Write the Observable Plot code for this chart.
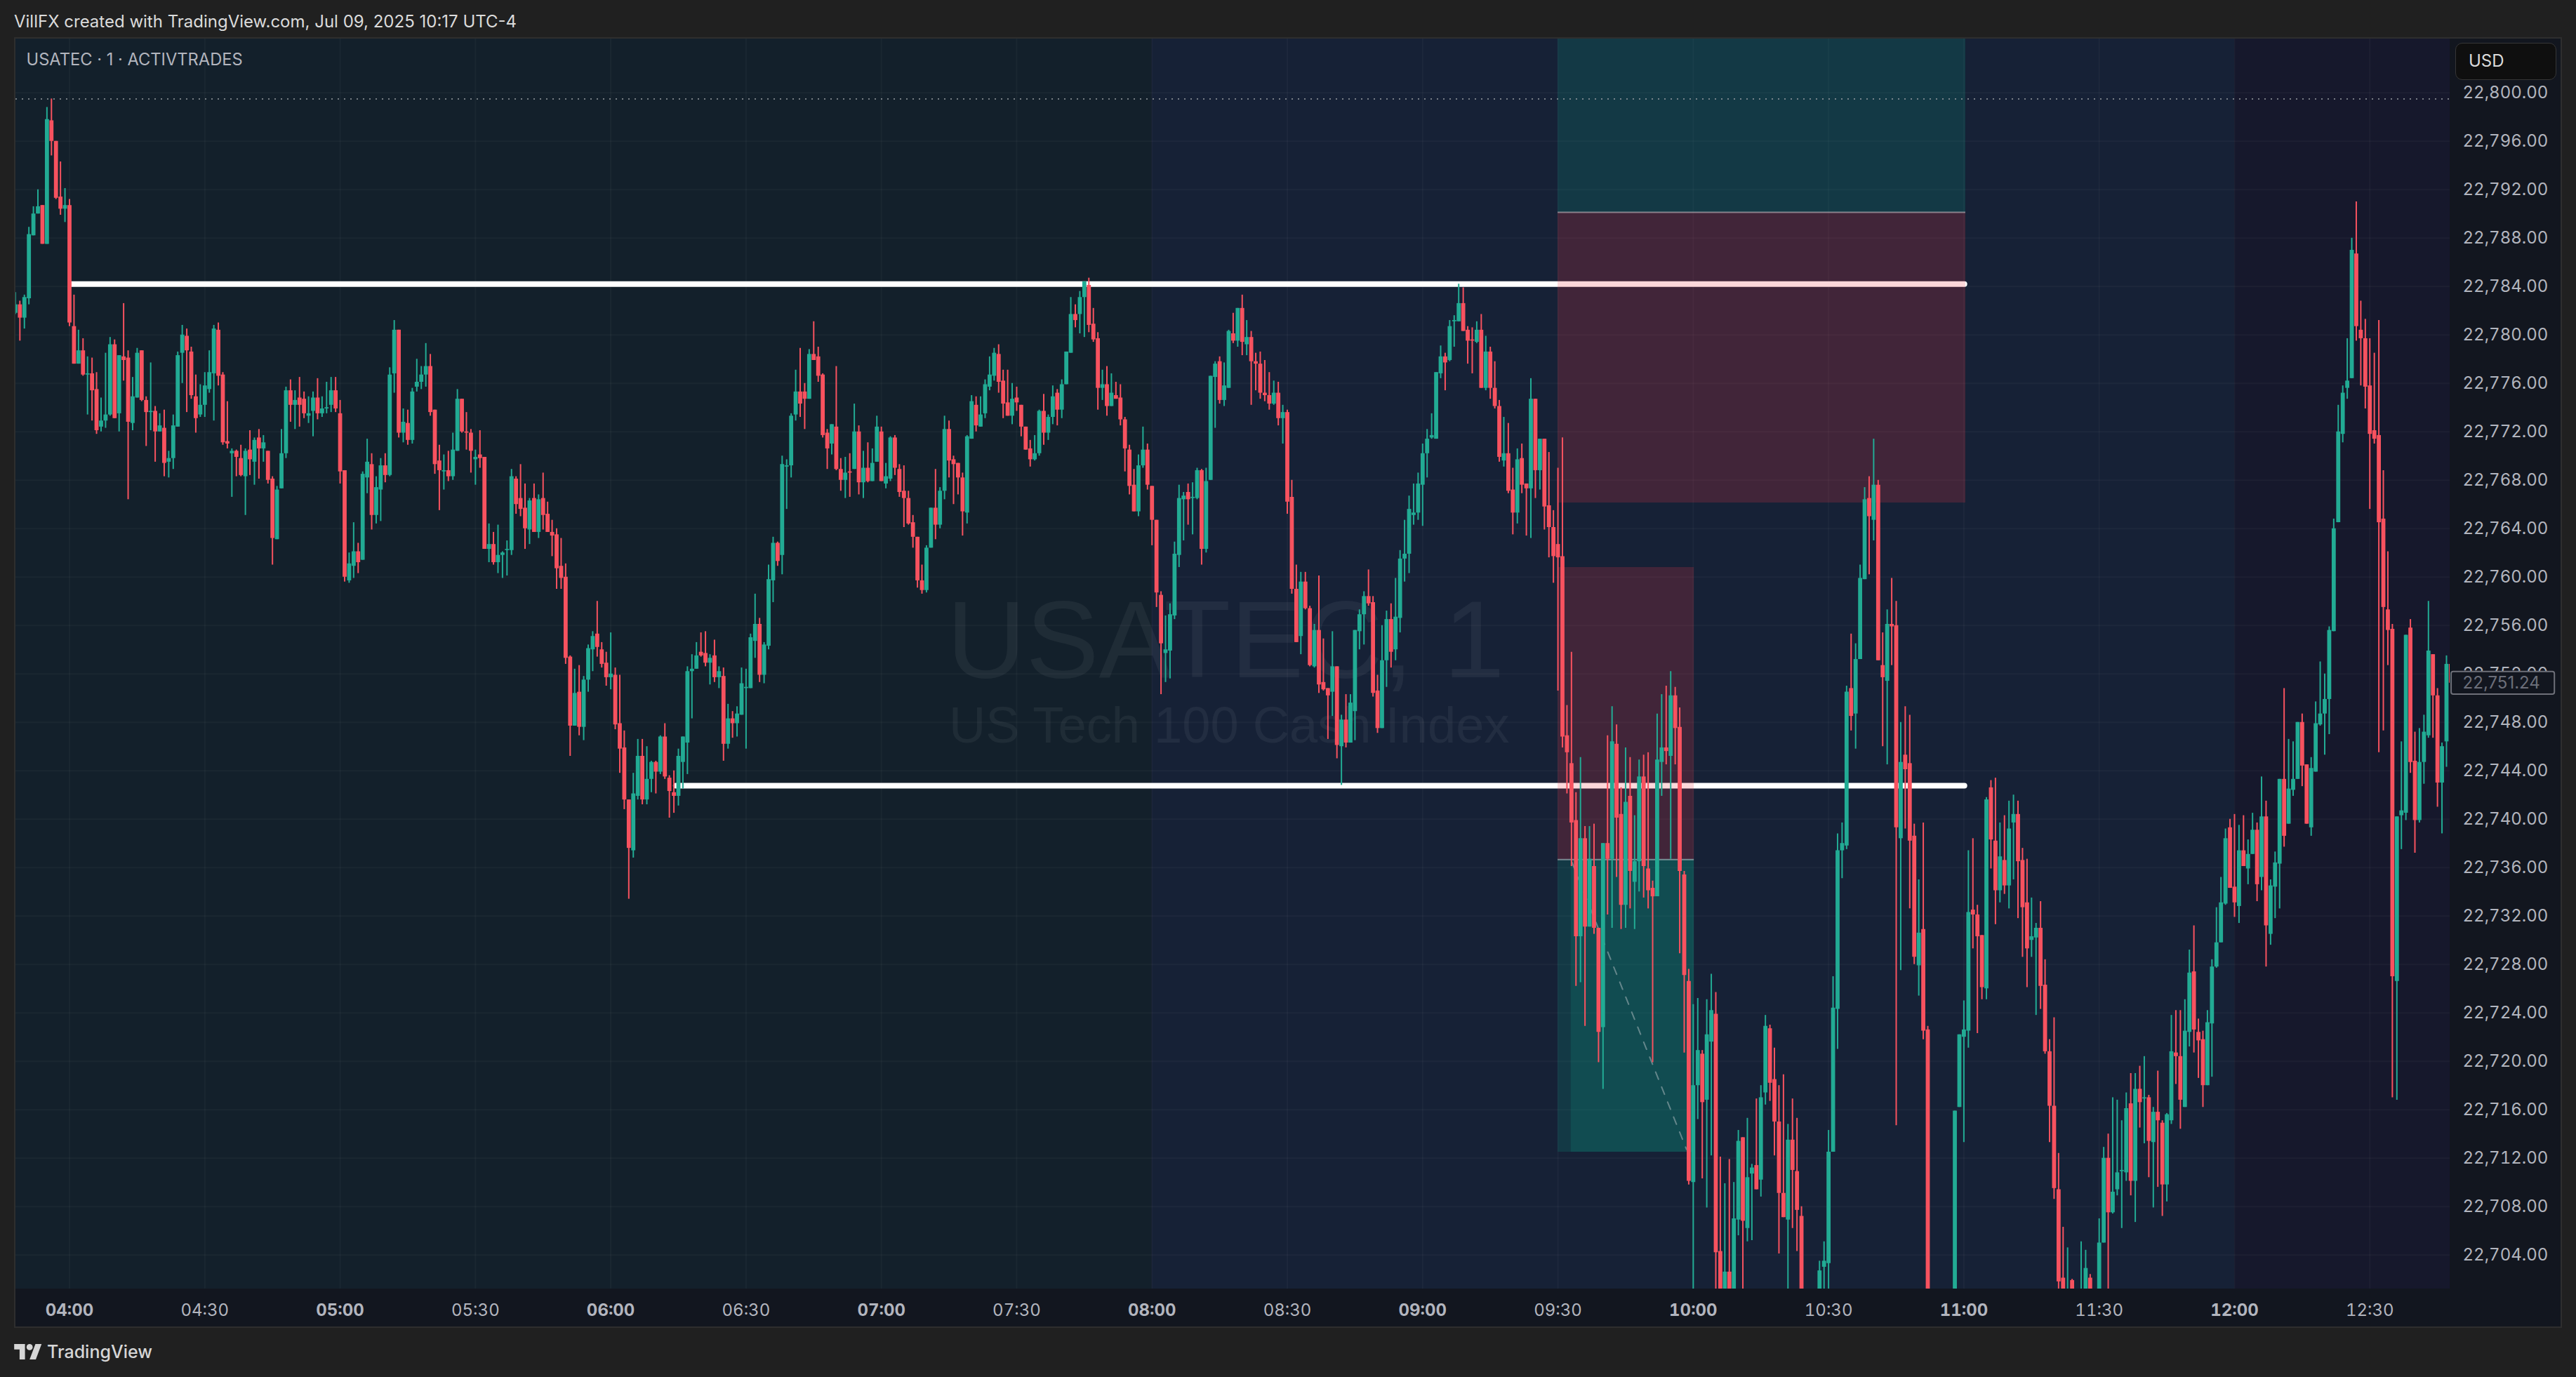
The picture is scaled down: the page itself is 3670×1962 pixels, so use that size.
<!DOCTYPE html>
<html>
<head>
<meta charset="utf-8">
<script src="https://cdn.jsdelivr.net/npm/d3@7"></script>
<script src="https://cdn.jsdelivr.net/npm/@observablehq/plot@0.6"></script>
<style>
html,body{margin:0;padding:0;background:#202020;width:3670px;height:1962px;overflow:hidden;font-family:Inter,"Noto Sans",sans-serif}
#head{height:53px;box-sizing:border-box;padding:15px 0 0 20px;font-size:24px;line-height:32px;color:#dbdbdb;white-space:nowrap}
#chart{position:relative;width:3670px;height:1839px}
#pane{position:absolute;left:20px;top:0;width:3630px;height:1839px;box-sizing:border-box;border:2px solid #2e2e2e;background:#12161f}
#chart svg{position:absolute;left:0;top:0;background:transparent!important}
#usd{position:absolute;left:3498px;top:8px;width:144px;height:53px;box-sizing:border-box;background:#0f0f0f;border:1.5px solid #363636;border-radius:10px;color:#dbdbdb;font-size:24px;line-height:50px;padding-left:18px}
#foot{height:70px;box-sizing:border-box;padding:0 0 0 20px;display:flex;align-items:center;gap:7px;color:#d6d6d6;font-size:25px;font-weight:500;margin-top:-1px}
</style>
</head>
<body>
<div id="head">VillFX created with TradingView.com, Jul 09, 2025 10:17 UTC-4</div>
<div id="chart"><div id="pane"></div></div>
<div id="foot"><svg width="40" height="22" viewBox="0 0 36 20"><path fill="#d6d6d6" d="M14 20H7V7H0V0h14v20ZM28 20h-8l7.5-20h8L28 20Z"/><circle fill="#d6d6d6" cx="20" cy="4" r="4"/></svg><span>TradingView</span></div>
<script>
const symbolLine = "USATEC · 1 · ACTIVTRADES";
const watermarkTop = "USATEC, 1";
const watermarkSub = "US Tech 100 Cash Index";
const priceBase = 22700;
const firstMinute = -12; // minutes from 04:00
const lastPrice = 22751.24;
const sessionHigh = 22799.5;
const priceTicks = [22800,22796,22792,22788,22784,22780,22776,22772,22768,22764,22760,22756,22752,22748,22744,22740,22736,22732,22728,22724,22720,22716,22712,22708,22704];
const hourTicks = [0,60,120,180,240,300,360,420,480];
const halfHourTicks = [30,90,150,210,270,330,390,450,510];
const sessionStart = [-12,240,480];
const sessionEnd = [240,480,528];
const sessionFill = ["#13202b","#162136","#16182c"];

const opens = [
81.8,82.5,81.4,83.0,88.2,90.0,90.7,87.5,97.7,96.0,
91.4,90.4,90.7,80.7,77.6,78.7,76.7,76.8,75.5,72.4,
72.9,73.4,79.2,73.5,78.2,78.1,72.7,74.8,78.7,74.6,
73.6,73.7,72.0,72.3,69.5,69.8,72.4,78.5,79.9,78.6,
74.9,73.4,74.2,75.5,76.8,80.4,76.7,71.2,70.2,70.4,
69.8,68.3,70.5,69.5,71.5,70.6,70.4,68.1,63.1,67.3,
70.2,75.4,74.2,74.8,74.7,73.3,73.7,74.8,73.5,73.9,
74.2,75.4,73.5,68.8,59.7,60.9,62.1,61.4,68.2,69.3,
65.1,67.2,69.2,68.4,76.8,80.4,71.9,72.7,71.3,75.7,
76.1,76.7,77.4,73.8,69.6,68.7,68.8,68.3,70.4,74.7,
72.0,71.9,69.7,70.1,69.9,62.3,62.7,61.2,61.8,62.2,
62.2,68.1,66.5,65.7,63.9,66.5,63.7,66.5,65.2,63.7,
63.5,60.9,60.0,53.4,47.7,50.5,47.6,51.5,54.0,55.3,
54.0,52.9,51.7,51.9,47.9,45.9,41.6,37.4,41.9,45.2,
41.6,43.3,44.7,43.9,46.8,43.4,42.2,41.9,44.7,46.3,
52.2,52.4,53.8,53.7,52.9,53.5,51.7,51.8,46.2,48.3,
47.9,48.6,50.8,50.8,54.7,56.1,51.9,54.3,59.7,62.8,
61.8,69.1,69.2,73.4,75.3,75.3,74.7,78.4,78.2,76.7,
71.9,71.0,72.4,68.9,68.0,68.7,68.9,72.0,67.8,69.0,
67.9,69.5,72.0,67.7,68.1,71.5,68.9,67.1,66.5,64.5,
63.3,59.7,58.9,62.4,65.7,64.3,67.1,72.2,69.7,69.4,
68.2,65.3,71.4,74.2,72.4,73.5,75.7,76.6,78.4,76.2,
74.4,73.3,74.8,74.2,72.4,70.6,69.7,70.2,73.7,71.9,
73.2,75.2,73.8,75.9,78.5,81.7,81.7,83.1,84.1,80.9,
79.7,75.6,75.9,74.1,75.0,74.8,73.0,70.5,67.6,65.4,
69.2,70.5,67.5,64.7,58.5,53.7,53.9,56.8,61.8,66.4,
67.0,66.5,66.5,68.8,62.3,68.0,76.5,77.8,74.6,75.6,
80.1,79.5,82.2,79.2,79.8,77.8,77.6,75.2,75.0,74.3,
75.2,73.1,73.6,66.6,59.0,55.1,59.6,57.4,52.6,55.6,
51.3,50.8,50.5,52.6,46.0,48.2,46.3,48.9,55.5,56.9,
58.4,57.9,50.6,47.5,53.1,56.5,54.0,56.6,61.5,61.9,
65.1,65.3,67.6,70.2,71.5,71.4,76.8,78.2,77.9,81.1,
81.1,82.6,80.4,79.6,79.4,80.4,75.6,78.6,75.6,74.1,
69.6,70.2,67.2,65.3,69.8,67.7,67.3,74.7,68.8,71.4,
65.9,64.1,62.7,61.7,46.9,44.6,39.9,30.3,38.4,31.1,
36.1,31.0,22.8,38.0,36.7,46.2,40.4,32.9,41.9,34.8,
36.5,43.5,35.9,34.3,33.6,44.7,45.9,45.2,50.2,47.6,
35.4,26.6,10.0,18.0,20.6,16.8,21.6,23.9,4.3,-0.5,
2.6,-1.0,6.9,13.7,6.2,10.7,11.4,10.2,17.4,22.7,
18.5,15.0,9.1,6.9,13.5,10.9,7.2,-0.5,-2.0,0.2,
0.0,3.0,3.3,12.5,24.3,37.4,37.8,50.8,48.7,53.2,
59.8,66.5,64.7,67.6,52.7,51.4,56.1,56.0,38.4,45.3,
44.6,38.6,27.9,30.9,22.6,-0.5,-3.0,-4.0,-2.5,-2.0,
0.0,16.2,22.0,22.5,32.5,32.1,30.4,26.0,42.6,38.2,
34.1,36.6,34.5,39.7,40.4,36.6,33.1,30.0,30.2,31.0,
26.3,20.8,16.3,9.4,2.1,0.5,1.9,-0.5,-1.0,-0.5,
2.1,-0.5,0.5,5.0,12.0,7.5,9.4,10.9,10.8,16.5,
10.1,17.7,16.9,17.0,13.3,15.8,14.9,9.8,15.1,20.7,
20.4,16.2,22.4,27.4,22.4,21.8,18.0,23.1,27.8,29.8,
33.0,39.3,34.4,32.8,37.4,35.9,37.1,39.1,35.2,40.2,
30.5,34.4,36.3,43.3,39.6,42.4,43.3,48.0,44.5,39.3,
43.9,47.8,48.7,49.9,55.5,64.5,71.8,75.6,76.4,86.7,
80.4,79.7,75.8,72.1,71.7,64.8,57.3,55.7,26.6,40.3,
40.5,55.8,44.8,39.9,44.7,46.9,53.6,50.2,43.0,46.4,
52.8];

const highs = [
83.5,82.8,83.3,88.9,90.6,92.0,90.7,98.8,99.5,96.0,
94.3,92.1,91.2,83.3,80.4,79.7,78.2,78.1,76.9,74.8,
78.5,79.8,79.6,78.3,82.6,78.7,76.5,78.9,78.7,74.9,
77.7,74.1,73.5,73.8,70.4,73.4,78.6,80.8,80.5,79.0,
76.7,75.9,76.9,78.7,80.8,81.0,76.9,74.5,70.6,70.5,
70.9,70.6,72.1,71.5,72.2,71.7,70.4,68.3,67.5,72.2,
75.7,76.3,75.4,76.5,75.3,74.9,75.3,76.4,74.9,76.1,
76.5,76.5,74.6,68.8,62.0,64.5,62.8,68.7,71.4,70.2,
68.3,69.8,70.2,77.3,81.2,80.4,73.9,73.8,75.6,78.0,
77.4,79.3,78.4,73.8,70.9,70.1,70.4,71.9,75.5,74.7,
73.6,72.2,70.5,72.1,69.9,64.4,63.7,64.3,62.1,63.0,
68.9,68.3,69.3,67.7,66.5,67.7,66.8,68.6,66.2,64.7,
64.0,63.2,61.1,53.5,52.4,52.7,51.8,54.4,55.5,58.0,
54.6,53.8,55.4,52.5,51.9,47.3,41.6,43.8,46.6,46.6,
46.0,44.8,44.8,46.9,47.9,43.6,44.0,45.8,46.8,52.6,
53.6,54.6,55.4,55.5,53.6,54.8,52.6,52.5,49.5,48.9,
49.3,52.5,52.4,55.3,58.6,56.6,54.6,61.0,63.3,62.9,
70.0,69.7,73.5,77.1,78.9,76.0,78.8,81.1,79.0,76.8,
72.2,72.6,77.4,69.8,69.9,70.2,74.3,72.5,70.4,71.1,
70.6,73.3,72.4,69.4,71.6,71.7,69.3,69.2,67.1,65.1,
63.3,61.0,62.6,65.7,68.9,67.4,73.3,72.9,70.0,69.4,
68.6,71.7,75.0,74.9,74.9,76.3,78.2,78.9,79.2,77.1,
77.1,76.0,75.7,74.2,72.4,71.3,71.7,73.8,75.1,73.4,
75.8,75.5,76.3,78.6,83.1,82.5,83.6,84.4,84.7,82.2,
80.2,77.1,77.4,76.8,76.1,75.9,73.2,70.9,68.9,70.1,
72.4,71.0,67.5,64.7,58.8,56.8,57.8,62.9,67.6,67.0,
67.7,67.8,69.0,68.9,69.0,76.6,77.8,78.2,77.7,80.4,
81.8,82.2,83.3,81.2,80.3,78.5,78.6,77.9,76.9,76.2,
76.1,74.2,73.8,68.0,61.0,60.4,60.4,57.6,56.1,60.1,
54.9,50.8,55.5,52.6,48.6,50.3,50.3,55.6,57.3,58.8,
60.6,58.4,51.9,56.0,57.2,57.8,59.9,62.2,64.7,66.7,
67.7,68.6,71.0,72.2,73.5,76.9,79.1,78.5,81.2,81.6,
84.2,83.9,80.7,80.6,81.1,81.7,79.9,79.0,77.8,74.6,
73.2,72.7,69.0,70.6,71.0,67.7,76.4,74.7,71.4,71.4,
70.3,65.5,69.0,71.5,49.4,53.8,42.2,45.1,39.4,39.4,
39.6,31.0,38.0,46.9,49.3,47.8,42.6,45.9,45.1,40.3,
44.9,45.3,45.5,34.9,48.7,50.3,51.0,52.2,50.9,49.2,
35.7,27.6,24.7,25.2,20.9,25.1,27.2,25.7,12.1,9.9,
11.9,10.0,14.3,13.7,15.3,11.5,16.9,18.0,23.8,23.0,
21.1,18.0,18.9,14.8,16.9,15.3,8.0,0.5,0.4,1.2,
3.5,5.1,14.3,27.0,38.8,39.7,51.0,55.3,54.5,61.0,
67.4,68.3,71.4,68.0,55.4,57.3,59.9,58.0,48.0,49.3,
48.6,39.6,35.0,39.7,22.9,0.5,0.5,0.4,0.5,0.8,
15.9,22.2,25.0,37.4,38.4,32.9,30.4,41.8,43.2,43.4,
39.7,40.3,41.5,42.0,41.5,37.6,36.7,33.5,31.4,33.2,
28.4,21.8,23.6,12.4,6.3,4.6,2.0,0.5,5.1,4.4,
2.4,0.0,7.0,12.9,14.0,17.0,16.8,15.1,17.4,19.0,
19.0,19.6,20.4,17.2,16.2,19.2,15.1,15.7,23.8,24.2,
24.2,25.1,29.2,31.2,23.5,22.5,24.2,28.4,32.7,35.2,
39.2,40.0,40.4,39.5,40.3,38.3,40.5,39.7,43.5,41.5,
35.0,37.3,43.3,50.8,46.6,46.4,48.0,48.7,44.5,45.1,
49.7,53.0,52.0,55.9,64.8,74.2,75.8,79.7,88.0,91.0,
82.8,81.3,79.7,78.5,81.2,68.8,62.1,56.1,40.2,46.4,
55.2,56.5,47.2,47.5,48.6,58.0,53.6,50.8,46.3,53.5,
52.8];

const lows = [
81.7,79.5,80.5,82.5,88.2,90.0,87.5,87.5,94.8,91.2,
89.9,89.3,80.7,77.6,77.6,76.6,73.4,72.9,71.8,72.0,
72.3,73.3,73.1,72.0,76.2,66.4,72.1,74.8,74.5,70.8,
72.1,69.5,72.0,68.3,68.2,68.9,72.4,76.0,73.6,74.7,
71.9,73.2,73.2,75.2,72.9,75.8,70.9,70.6,66.6,68.3,
68.3,65.1,68.4,67.6,68.1,69.5,67.7,61.0,63.1,67.3,
69.8,72.8,72.2,72.4,73.1,72.7,71.6,73.0,73.2,73.5,
73.6,73.6,67.7,59.6,59.5,59.9,60.3,61.4,66.9,63.9,
64.4,64.6,67.8,68.3,75.2,71.5,71.1,70.9,71.0,75.3,
75.5,75.7,73.3,68.5,65.5,67.2,67.9,68.0,70.4,71.9,
70.5,68.6,67.6,69.0,62.3,61.2,61.0,60.3,59.9,60.1,
61.8,65.2,65.0,62.3,62.7,63.7,63.2,63.9,63.7,61.7,
59.0,59.0,52.8,45.2,47.7,46.9,46.5,50.5,52.2,53.4,
52.5,51.0,50.7,47.4,43.8,40.8,33.4,36.8,41.6,41.2,
41.2,42.2,42.1,43.7,43.3,40.1,40.5,41.1,42.5,43.7,
48.3,52.4,53.4,52.6,51.1,51.3,50.8,44.8,45.8,46.7,
46.8,48.6,45.8,50.8,53.3,51.3,51.2,54.0,57.9,60.9,
60.2,65.6,68.2,72.9,73.2,72.2,74.7,77.9,76.1,71.5,
68.9,70.1,68.8,67.1,66.5,66.6,68.9,66.8,66.5,67.8,
67.9,69.5,67.9,67.3,67.9,68.4,66.6,64.1,64.3,62.4,
59.1,58.6,58.7,62.4,63.1,64.0,66.4,68.2,66.0,66.8,
63.4,64.4,71.4,72.0,72.4,73.1,75.4,76.2,75.2,73.1,
73.3,72.6,73.7,71.6,70.5,69.1,69.6,70.0,70.9,71.3,
72.6,72.5,73.1,75.9,78.5,80.6,80.1,79.8,80.2,79.4,
73.8,74.6,73.3,74.1,74.7,72.5,68.7,66.8,65.4,65.0,
69.0,67.2,62.6,57.5,50.3,51.3,51.6,56.5,60.8,63.0,
64.3,63.5,66.4,61.0,62.0,68.0,72.3,74.3,74.1,75.6,
79.3,79.0,78.3,78.3,74.2,75.4,74.7,74.5,73.8,74.2,
72.5,71.0,65.2,58.6,54.6,53.6,57.3,52.6,52.5,50.4,
50.6,46.6,48.5,45.0,42.8,45.9,46.3,46.5,54.0,54.4,
57.6,50.1,47.1,47.5,50.9,52.5,53.1,55.4,59.6,60.3,
64.3,64.7,64.2,68.2,71.4,71.4,76.4,75.4,77.8,79.0,
81.1,80.3,77.6,76.8,79.3,75.6,75.4,74.7,73.9,69.5,
69.1,66.9,63.5,64.4,66.9,63.4,63.2,66.5,67.2,63.9,
61.6,59.5,50.6,45.9,42.1,36.1,26.2,26.5,22.9,31.1,
30.5,19.9,17.7,32.1,31.0,35.2,30.9,31.0,32.6,30.9,
34.0,33.5,32.6,19.9,33.6,41.9,44.5,36.7,44.5,28.9,
20.7,9.8,0.0,15.2,10.3,7.9,12.2,0.5,-1.0,-1.5,
-2.0,-2.0,5.6,-1.0,5.1,5.2,9.4,8.8,16.4,16.7,
12.2,4.1,7.1,0.0,6.2,4.3,-1.0,-3.0,-4.0,-1.0,
-0.5,0.0,0.0,12.5,21.0,35.1,37.5,47.3,45.8,53.2,
59.8,60.2,63.0,53.1,46.0,44.5,52.7,14.7,27.5,39.2,
32.6,28.0,25.4,21.8,-1.0,-4.0,-4.0,-5.0,-3.0,-3.0,
-1.0,16.2,13.3,21.1,29.3,22.3,25.1,25.1,35.9,31.3,
33.1,33.8,32.6,35.0,31.8,28.6,26.1,28.6,23.8,24.3,
20.6,13.3,8.6,0.0,-1.0,-1.0,-1.0,-3.0,-1.5,-1.0,
-1.0,-3.0,0.0,5.0,1.0,7.4,8.9,6.2,10.1,8.9,
6.7,14.5,13.2,10.4,7.9,9.6,7.2,8.4,14.8,18.1,
14.4,16.2,21.2,20.7,18.6,16.2,18.0,18.7,27.7,29.8,
32.9,34.3,31.9,31.4,36.1,34.6,37.1,33.2,34.1,27.8,
29.6,31.8,32.6,37.7,39.6,41.9,43.3,42.7,39.6,38.6,
43.9,47.7,45.3,47.0,55.5,64.5,71.1,74.7,76.4,79.5,
75.8,73.9,65.6,71.0,45.5,47.3,52.7,17.0,16.8,37.5,
39.9,43.8,37.2,39.7,42.9,46.7,46.7,41.0,38.8,44.3,
51.1];

const closes = [
82.5,81.4,83.1,88.3,90.0,90.6,87.5,97.8,96.0,91.3,
90.4,90.7,81.0,77.6,78.7,76.7,76.8,75.4,72.1,72.9,
73.4,79.2,73.1,78.3,77.9,72.8,74.9,78.5,74.6,73.6,
73.7,72.0,72.5,69.4,69.8,72.5,78.3,80.0,78.7,75.0,
73.1,74.2,75.8,76.9,80.5,76.6,71.1,71.0,70.4,69.9,
68.4,70.4,69.7,71.3,70.6,71.1,68.0,63.2,67.2,70.2,
75.4,74.2,74.6,74.2,73.5,73.5,74.8,73.5,73.9,74.0,
75.4,73.9,68.7,60.0,61.1,62.1,61.2,68.5,69.5,65.1,
67.4,69.2,68.4,76.7,80.4,71.9,72.8,71.3,75.3,76.1,
76.7,77.4,73.6,69.3,68.8,68.8,68.3,70.5,74.7,72.0,
71.9,70.4,69.9,69.8,62.3,62.7,61.2,61.8,62.0,62.3,
68.3,66.0,65.6,64.0,66.3,63.7,66.4,65.1,63.7,63.4,
60.7,59.9,53.3,47.7,50.4,47.6,51.5,54.1,55.1,54.2,
52.8,51.7,52.0,47.8,45.8,41.6,37.6,42.1,45.2,41.6,
43.3,44.7,43.9,46.8,43.5,42.3,41.9,45.2,46.8,52.2,
52.4,53.5,53.5,52.9,53.3,51.7,52.2,46.2,48.3,47.9,
48.7,51.2,50.9,55.0,56.1,51.9,54.4,59.8,62.8,61.3,
69.3,69.2,73.3,75.3,74.3,74.7,78.4,77.9,76.6,71.7,
70.6,72.6,68.9,68.0,68.6,68.6,72.0,67.8,69.0,67.9,
69.4,72.4,67.9,68.3,71.5,69.0,67.0,66.5,64.4,63.3,
59.7,58.9,62.4,65.7,64.3,67.1,72.2,69.6,69.3,68.2,
65.4,71.6,74.5,72.5,73.4,75.9,76.7,78.5,76.1,74.3,
73.3,74.7,74.4,72.4,70.5,69.7,70.2,73.7,71.9,73.2,
74.9,73.8,75.9,78.6,81.7,81.2,83.1,84.4,80.8,79.6,
75.6,75.9,74.1,75.2,74.7,73.0,70.6,67.5,65.4,69.2,
70.5,67.6,64.7,58.7,54.5,54.0,56.9,61.9,66.5,66.7,
66.4,66.6,68.8,62.3,67.9,76.6,77.6,74.6,75.8,80.3,
79.5,82.2,79.4,79.8,77.8,77.6,75.2,75.0,74.3,75.2,
73.1,73.6,66.2,59.0,54.6,59.6,57.4,52.7,55.6,51.1,
50.7,50.2,52.6,46.1,48.2,46.3,49.6,55.6,56.9,58.4,
57.8,50.4,47.5,53.1,56.5,53.8,56.7,61.5,61.9,65.6,
65.3,67.7,70.2,71.4,71.7,76.9,78.2,77.7,80.7,81.2,
82.6,80.3,79.5,79.5,80.4,75.6,78.6,75.6,74.1,69.9,
70.2,67.1,65.3,69.7,67.6,67.3,74.7,68.8,71.4,65.8,
64.1,61.7,61.6,46.8,45.5,39.7,30.3,38.4,31.1,36.7,
31.0,22.4,38.0,36.7,46.4,40.1,32.9,41.4,35.7,36.5,
43.5,36.1,34.1,33.6,44.9,45.9,45.6,50.2,47.5,35.7,
27.1,10.1,18.0,20.9,16.6,22.2,24.2,4.2,0.2,2.6,
-0.5,7.0,13.4,6.8,10.4,11.2,9.4,17.0,22.9,18.2,
15.0,9.1,7.1,13.5,11.0,7.7,0.0,-2.0,-3.5,1.2,
2.7,3.5,12.5,24.4,37.4,38.0,50.5,48.5,53.2,59.9,
66.4,65.0,67.6,53.1,51.7,56.1,55.9,39.3,44.7,44.1,
38.2,28.6,30.6,22.5,0.0,-3.0,-1.5,-2.5,-2.0,0.0,
15.9,22.2,22.6,32.3,32.1,30.3,26.1,41.6,38.3,34.1,
36.9,34.5,39.2,40.4,36.5,32.7,29.3,30.3,31.0,26.2,
20.8,16.3,9.5,1.8,0.0,1.2,-0.5,-2.0,0.8,2.9,
-0.5,-2.0,5.0,12.0,7.5,9.2,10.8,11.0,16.1,10.1,
17.7,16.6,17.0,13.4,15.8,15.1,9.8,15.6,20.8,20.4,
16.8,22.5,27.3,22.6,21.7,18.0,23.2,27.8,29.8,33.1,
38.4,34.3,33.1,37.4,36.1,37.1,39.1,34.6,40.2,31.2,
34.5,36.4,43.3,38.6,42.5,43.3,48.0,44.4,39.6,44.2,
47.9,48.7,49.9,55.6,64.0,72.0,75.2,76.2,87.0,80.7,
79.7,75.7,71.8,71.4,64.5,57.5,55.6,27.0,40.2,40.7,
55.2,44.7,39.9,44.7,47.2,53.9,50.2,43.0,46.0,52.8,
51.24];

// drawn levels and position tools, in minutes from 04:00 and price
const levelPrice = [22784.2,22742.77];
const levelFrom = [0.5,134.5];
const levelTo = [420.2,420.2];
const zoneFrom = [330,330,330,332.9];
const zoneTo = [420.4,360.2,360.2,360.2];
const zoneTop = [22804.45,22760.8,22736.67,22736.67];
const zoneBottom = [22790.13,22736.67,22712.5,22712.5];
const zoneFill = ["#089981","#f23645","#089981","#089981"];
const bigRedTop = 22790.13, bigRedBottom = 22766.13;
const pathMinutes = [333.1,358.5];
const pathPrices = [22736.45,22712.73];

if (![highs,lows,closes].every(a => a.length === opens.length)) throw new Error("length mismatch " + [opens.length,highs.length,lows.length,closes.length]);

const bars = opens.map((o,i) => ({t:firstMinute+i,o:priceBase+o,h:priceBase+highs[i],l:priceBase+lows[i],c:priceBase+closes[i]}));
const up = "#22ab94", down = "#f7525f";
const colour = d => d.c >= d.o ? up : down;
const sessions = sessionStart.map((s,i) => ({s,e:sessionEnd[i],f:sessionFill[i]}));
const zones = zoneFrom.map((s,i) => ({s,e:zoneTo[i],t:zoneTop[i],b:zoneBottom[i],f:zoneFill[i]}));
zones.splice(1,0,{s:330,e:420.4,t:bigRedTop,b:bigRedBottom,f:"#f23645"});
const levels = levelPrice.map((p,i) => ({p,a:levelFrom[i],z:levelTo[i]}));
const clock = m => { const t = 240 + m; return String(Math.floor(t/60)).padStart(2,"0")+":"+String(t%60).padStart(2,"0"); };
const priceFmt = d3.format(",.2f");
const axisFill = "#b2b5be";
const xDomain = [-11.905,527.78];
const boxFrom = 528.1, boxTo = 551, labelAt = 530.6;

const chart = Plot.plot({
  width:3670, height:1839,
  marginLeft:22, marginRight:180, marginTop:2, marginBottom:56,
  style:{fontFamily:"Inter, 'Noto Sans', sans-serif",background:"transparent",overflow:"visible"},
  x:{type:"linear",domain:xDomain,axis:null},
  y:{type:"linear",domain:[22701.2,22804.45],axis:null},
  marks:[
    Plot.rect(sessions,{x1:"s",x2:"e",y1:22701.2,y2:22804.45,fill:d=>d.f,clip:true}),
    Plot.gridX(hourTicks.concat(halfHourTicks),{stroke:"#ffffff",strokeOpacity:0.03,strokeWidth:2}),
    Plot.gridY(priceTicks,{stroke:"#ffffff",strokeOpacity:0.03,strokeWidth:2}),
    Plot.text([watermarkTop],{x:194.5,y:22751.7,text:d=>d,textAnchor:"start",lineAnchor:"bottom",fontSize:156,fontFamily:"Liberation Sans",fill:"#ffffff",fillOpacity:0.055}),
    Plot.text([watermarkSub],{x:195,y:22746.35,text:d=>d,textAnchor:"start",lineAnchor:"bottom",fontSize:72.3,fontFamily:"Liberation Sans",fill:"#ffffff",fillOpacity:0.055}),
    Plot.ruleY(levels,{y:"p",x1:"a",x2:"z",stroke:"#ffffff",strokeWidth:8,strokeLinecap:"round"}),
    Plot.rect(zones,{x1:"s",x2:"e",y1:"b",y2:"t",fill:d=>d.f,fillOpacity:0.2,clip:true}),
    Plot.ruleY([bigRedTop],{x1:330,x2:420.4,stroke:"#c9ced2",strokeOpacity:0.55,strokeWidth:2}),
    Plot.ruleY([22736.67],{x1:330,x2:360.2,stroke:"#c9ced2",strokeOpacity:0.55,strokeWidth:2}),
    Plot.line(pathMinutes.map((m,i)=>({m,p:pathPrices[i]})),{x:"m",y:"p",stroke:"#c9ced2",strokeOpacity:0.45,strokeWidth:2,strokeDasharray:"11 12"}),
    Plot.ruleX(bars,{x:"t",y1:"l",y2:"h",stroke:colour,strokeWidth:2,clip:true}),
    Plot.ruleX(bars,{x:"t",y1:"o",y2:"c",stroke:colour,strokeWidth:5.8,clip:true}),
    Plot.ruleY([sessionHigh],{stroke:"#9a9da3",strokeOpacity:0.75,strokeWidth:2,strokeDasharray:"2 7"}),
    Plot.text([symbolLine],{frameAnchor:"top-left",dx:15,dy:30,text:d=>d,textAnchor:"start",lineAnchor:"middle",fontSize:23.7,fill:axisFill}),
    Plot.axisY(priceTicks,{anchor:"right",tickSize:0,tickPadding:18,tickFormat:priceFmt,fontSize:24,fill:axisFill,label:null}),
    Plot.axisX(hourTicks,{anchor:"bottom",tickSize:0,tickPadding:21,tickFormat:clock,fontSize:24,fontWeight:700,fill:axisFill,label:null}),
    Plot.axisX(halfHourTicks,{anchor:"bottom",tickSize:0,tickPadding:21,tickFormat:clock,fontSize:24,fill:axisFill,label:null}),
    Plot.rect([lastPrice],{x1:boxFrom,x2:boxTo,y1:d=>d-0.93,y2:d=>d+0.93,fill:"#12161f",stroke:"#6e7079",strokeWidth:2,rx:3}),
    Plot.text([lastPrice],{x:labelAt,y:d=>d,text:priceFmt,textAnchor:"start",fontSize:24,fill:"#6b6e79"})
  ]
});
document.getElementById("chart").appendChild(chart);
const usd = document.createElement("div");
usd.id = "usd"; usd.textContent = "USD";
document.getElementById("chart").appendChild(usd);
</script>
</body>
</html>
